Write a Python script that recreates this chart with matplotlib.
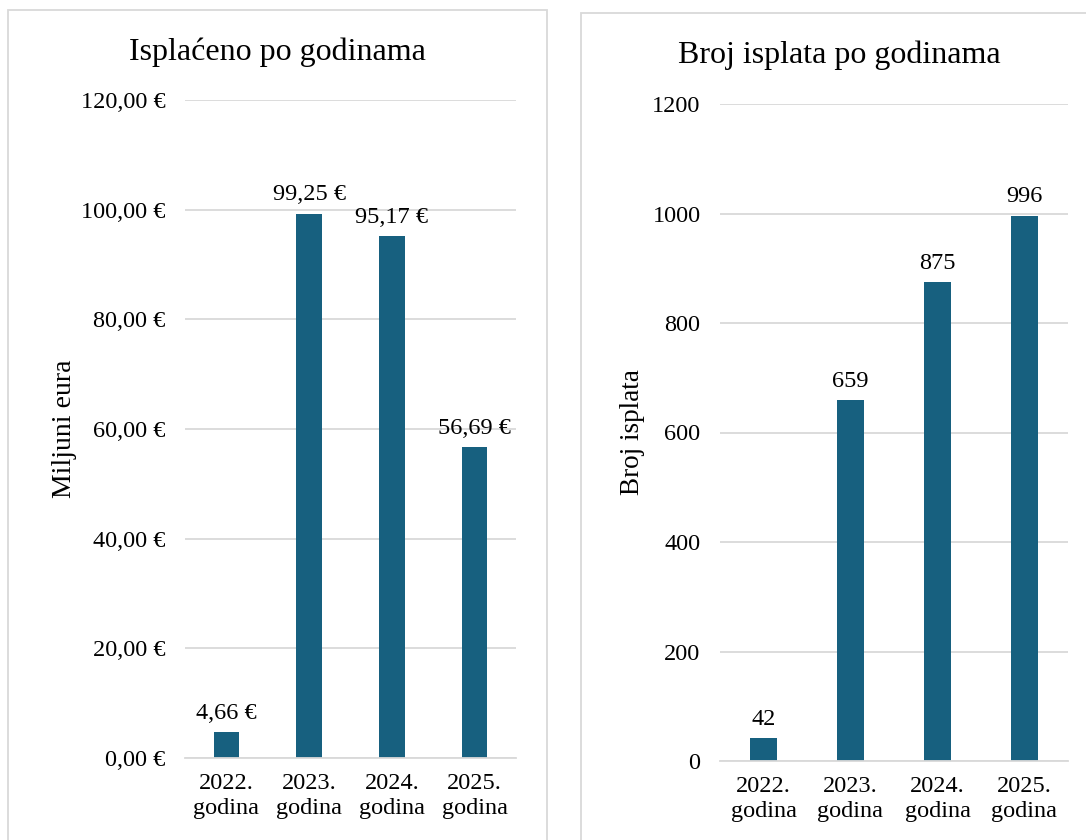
import matplotlib.pyplot as plt
from matplotlib.patches import Rectangle
import numpy as np

plt.rcParams['font.family'] = ['Liberation Serif', 'DejaVu Serif']

# Data
years = ['2022.\ngodina', '2023.\ngodina', '2024.\ngodina', '2025.\ngodina']
paid_mil = [4.66, 99.25, 95.17, 56.69]
paid_labels = ['4,66 €', '99,25 €', '95,17 €', '56,69 €']
count_payments = [42, 659, 875, 996]

bar_color = '#17607f'
grid_color = '#d9d9d9'

W, H = 1086, 840
fig = plt.figure(figsize=(W / 100, H / 100), dpi=100)

# panel borders (pixel coords -> figure fraction)
def px_rect(x0, y0, x1, y1):
    return Rectangle((x0 / W, 1 - y1 / H), (x1 - x0) / W, (y1 - y0) / H,
                     transform=fig.transFigure, fill=False,
                     edgecolor=grid_color, linewidth=1.3)

fig.patches.append(px_rect(7.5, 10.5, 547, 860))
fig.patches.append(px_rect(580.5, 13.5, 1100, 860))


def make_ax(x0, y_top, x1, y_bot):
    return fig.add_axes([x0 / W, 1 - y_bot / H, (x1 - x0) / W, (y_bot - y_top) / H])


def style(ax, ymax, step):
    ax.set_ylim(0, ymax)
    ax.set_yticks(np.arange(0, ymax + step / 2, step))
    ax.set_xlim(-0.5, 3.5)
    ax.grid(axis='y', color=grid_color, linewidth=1.3)
    ax.set_axisbelow(True)
    for s in ['top', 'right', 'left']:
        ax.spines[s].set_visible(False)
    ax.spines['bottom'].set_color(grid_color)
    ax.spines['bottom'].set_linewidth(1.3)
    ax.tick_params(length=0, labelsize=17.5, colors='#000000')
    ax.tick_params(axis='y', pad=14)
    ax.tick_params(axis='x', pad=11)
    ax.set_xticks(range(len(years)))
    ax.set_xticklabels(years, linespacing=1.22)


# Left chart
ax1 = make_ax(185, 100, 516, 758)
x = np.arange(len(years))
ax1.bar(x, paid_mil, width=0.31, color=bar_color)
style(ax1, 120, 20)
ax1.set_yticklabels([f'{v:.2f}'.replace('.', ',') + ' €' for v in np.arange(0, 121, 20)])
for xi, v, lab in zip(x, paid_mil, paid_labels):
    ax1.annotate(lab, (xi, v), textcoords='offset points', xytext=(0, 6),
                 ha='center', va='bottom', fontsize=17.5)
fig.text(277 / W, 1 - 52 / H, 'Isplaćeno po godinama', fontsize=23,
         ha='center', va='center')
ax1.set_ylabel('Miljuni eura', fontsize=20, labelpad=3)

# Right chart
ax2 = make_ax(720, 104, 1068, 761)
ax2.bar(x, count_payments, width=0.31, color=bar_color)
style(ax2, 1200, 200)
for xi, v in zip(x, count_payments):
    ax2.annotate(str(v), (xi, v), textcoords='offset points', xytext=(0, 6),
                 ha='center', va='bottom', fontsize=17.5)
fig.text(839 / W, 1 - 55 / H, 'Broj isplata po godinama', fontsize=23,
         ha='center', va='center')
ax2.set_ylabel('Broj isplata', fontsize=19.5, labelpad=5.5)

fig.savefig('out.png', dpi=100, facecolor='white')
